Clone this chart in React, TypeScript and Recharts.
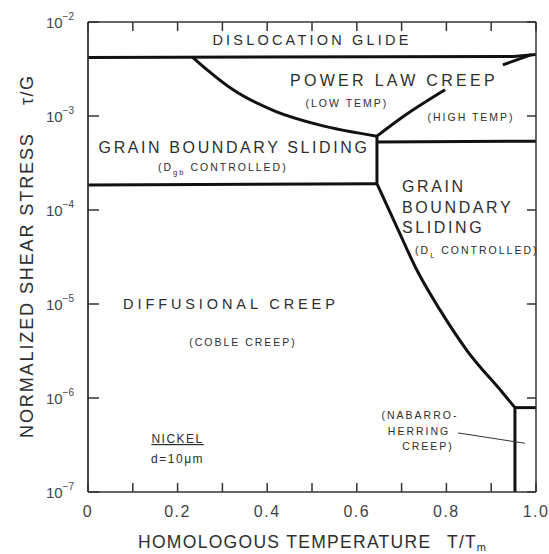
import React from 'react';
import { ComposedChart, Line, XAxis, YAxis, ReferenceDot } from 'recharts';

// axis ticks
const xTicks = [0, 0.1, 0.2, 0.3, 0.4, 0.5, 0.6, 0.7, 0.8, 0.9, 1.0];
const xLabelTicks = [0, 0.2, 0.4, 0.6, 0.8, 1.0];
const yDecades = [1e-7, 1e-6, 1e-5, 1e-4, 1e-3, 1e-2];

// field boundaries, x = T/Tm, y = tau/G
const glideBoundary = [
  { x: 0, y: 4.2e-3 },
  { x: 0.95, y: 4.3e-3 },
  { x: 1.0, y: 4.5e-3 },
];
const gbsLowerBoundary = [
  { x: 0, y: 1.85e-4 },
  { x: 0.645, y: 1.9e-4 },
];
const gbsSplit = [
  { x: 0.645, y: 1.9e-4 },
  { x: 0.645, y: 6.1e-4 },
];
const lowTempCreepBoundary = [
  { x: 0.234, y: 4.2e-3 },
  { x: 0.266, y: 3.1e-3 },
  { x: 0.324, y: 1.9e-3 },
  { x: 0.417, y: 1.13e-3 },
  { x: 0.518, y: 8.0e-4 },
  { x: 0.645, y: 6.1e-4 },
];
const highTempCreepLower = [
  { x: 0.645, y: 6.1e-4 },
  { x: 0.703, y: 9.8e-4 },
  { x: 0.797, y: 1.9e-3 },
];
const highTempCreepUpper = [
  { x: 0.926, y: 3.5e-3 },
  { x: 0.99, y: 4.5e-3 },
];
const creepGbsBoundary = [
  { x: 0.645, y: 5.3e-4 },
  { x: 1.0, y: 5.4e-4 },
];
const latticeGbsBoundary = [
  { x: 0.645, y: 1.9e-4 },
  { x: 0.69, y: 6.5e-5 },
  { x: 0.734, y: 2.3e-5 },
  { x: 0.786, y: 8.6e-6 },
  { x: 0.846, y: 3.2e-6 },
  { x: 0.926, y: 1.13e-6 },
  { x: 0.953, y: 7.9e-7 },
];
const nhTop = [
  { x: 0.953, y: 7.9e-7 },
  { x: 1.0, y: 7.9e-7 },
];
const nhSide = [
  { x: 0.953, y: 7.9e-7 },
  { x: 0.953, y: 1e-7 },
];
const nhLeader = [
  { x: 0.826, y: 4.25e-7 },
  { x: 0.975, y: 3.3e-7 },
];

type Part = string | { sub: string };
type Kind = 'big' | 'mid' | 'small' | 'note';

// region names, anchored at text baseline
const regionLabels: { x: number; y: number; parts: Part[]; kind: Kind; anchor?: 'start' | 'middle'; wide?: boolean }[] = [
  { x: 0.5, y: 5.7e-3, parts: ['DISLOCATION GLIDE'], kind: 'mid' },
  { x: 0.683, y: 2.08e-3, parts: ['POWER LAW CREEP'], kind: 'big', wide: true },
  { x: 0.578, y: 1.25e-3, parts: ['(LOW TEMP)'], kind: 'small' },
  { x: 0.855, y: 8.85e-4, parts: ['(HIGH TEMP)'], kind: 'small' },
  { x: 0.326, y: 4.04e-4, parts: ['GRAIN BOUNDARY SLIDING'], kind: 'big' },
  { x: 0.301, y: 2.6e-4, parts: ['(D', { sub: 'gb' }, ' CONTROLLED)'], kind: 'small' },
  { x: 0.701, y: 1.55e-4, parts: ['GRAIN'], kind: 'big', anchor: 'start' },
  { x: 0.701, y: 9.3e-5, parts: ['BOUNDARY'], kind: 'big', anchor: 'start' },
  { x: 0.701, y: 5.7e-5, parts: ['SLIDING'], kind: 'big', anchor: 'start' },
  { x: 0.73, y: 3.4e-5, parts: ['(D', { sub: 'L' }, ' CONTROLLED)'], kind: 'small', anchor: 'start' },
  { x: 0.319, y: 8.85e-6, parts: ['DIFFUSIONAL CREEP'], kind: 'mid', wide: true },
  { x: 0.346, y: 3.57e-6, parts: ['(COBLE CREEP)'], kind: 'small' },
  { x: 0.741, y: 5.98e-7, parts: ['(NABARRO-'], kind: 'small' },
  { x: 0.739, y: 4.04e-7, parts: ['HERRING'], kind: 'small' },
  { x: 0.759, y: 2.8e-7, parts: ['CREEP)'], kind: 'small' },
  { x: 0.2, y: 3.32e-7, parts: ['NICKEL'], kind: 'note' },
  { x: 0.2, y: 2.04e-7, parts: ['d=10\u03bcm'], kind: 'note' },
];

const FONT = '"Liberation Sans", Arial, sans-serif';
const INK = '#111';
const TEXT = '#2e2e2e';
const FRAME = '#333';

const kindStyle: Record<Kind, { size: number; spacing: number }> = {
  big: { size: 16, spacing: 2.6 },
  mid: { size: 14.5, spacing: 3.2 },
  small: { size: 10.5, spacing: 2 },
  note: { size: 12, spacing: 1.5 },
};

const renderParts = (parts: Part[], subSize: number) => {
  let lowered = false;
  return parts.map((p, i) => {
    if (typeof p === 'string') {
      const dy = lowered ? -4 : 0;
      lowered = false;
      return (
        <tspan key={i} dy={dy}>
          {p}
        </tspan>
      );
    }
    lowered = true;
    return (
      <tspan key={i} dy={4} fontSize={subSize}>
        {p.sub}
      </tspan>
    );
  });
};

const BottomTick = (props: any) => {
  const { x, y, payload } = props;
  const v = payload.value;
  const labelled = xLabelTicks.some((t) => Math.abs(t - v) < 1e-6);
  return (
    <g>
      <line x1={x} x2={x} y1={y} y2={y - 9} stroke={FRAME} strokeWidth={1.5} />
      {labelled && (
        <text x={x} y={y + 25} textAnchor="middle" fontFamily={FONT} fontSize={16} fill="#444" letterSpacing={1.5}>
          {v === 0 ? '0' : v.toFixed(1)}
        </text>
      )}
    </g>
  );
};

const TopTick = (props: any) => {
  const { x, y } = props;
  return <line x1={x} x2={x} y1={y} y2={y + 9} stroke={FRAME} strokeWidth={1.5} />;
};

const LeftTick = (props: any) => {
  const { x, y, payload } = props;
  const exp = Math.round(Math.log10(payload.value));
  return (
    <g>
      <line x1={x} x2={x + 11} y1={y} y2={y} stroke={FRAME} strokeWidth={1.5} />
      <text x={x - 14} y={y + 6} textAnchor="end" fontFamily={FONT} fontSize={15} fill="#444">
        <tspan>10</tspan>
        <tspan dy={-8} fontSize={10}>{`\u2212${Math.abs(exp)}`}</tspan>
      </text>
    </g>
  );
};

const RightTick = (props: any) => {
  const { x, y } = props;
  return <line x1={x} x2={x - 9} y1={y} y2={y} stroke={FRAME} strokeWidth={1.5} />;
};

const YTitle = (props: any) => {
  const { viewBox } = props;
  const bx = viewBox.x + 33;
  const bottom = viewBox.y + viewBox.height - 54;
  const top = viewBox.y + 83;
  return (
    <g fontFamily={FONT} fontSize={18} fill={TEXT}>
      <text x={bx} y={bottom} transform={`rotate(-90 ${bx} ${bottom})`} letterSpacing={1.9}>
        NORMALIZED SHEAR STRESS
      </text>
      <text x={bx} y={top} transform={`rotate(-90 ${bx} ${top})`} letterSpacing={1.5}>
        {'\u03c4/G'}
      </text>
    </g>
  );
};

const XTitle = (props: any) => {
  const { viewBox } = props;
  const by = viewBox.y + 56;
  return (
    <g fontFamily={FONT} fontSize={17.5} fill={TEXT}>
      <text x={138} y={by} letterSpacing={1.3}>
        HOMOLOGOUS TEMPERATURE
      </text>
      <text x={447} y={by} letterSpacing={1.2}>
        {'T/T'}
        <tspan dy={3} fontSize={11}>m</tspan>
      </text>
    </g>
  );
};

const RegionText = ({ viewBox, label }: any) => {
  const st = kindStyle[label.kind as Kind];
  return (
    <text
      x={viewBox.x}
      y={viewBox.y}
      textAnchor={label.anchor ?? 'middle'}
      fontFamily={FONT}
      fontSize={st.size}
      letterSpacing={label.wide ? st.spacing + 0.7 : st.spacing}
      fill={TEXT}
      textDecoration={label.parts[0] === 'NICKEL' ? 'underline' : undefined}
    >
      {renderParts(label.parts, st.size * 0.72)}
    </text>
  );
};

const boundaries = [
  { key: 'glide', data: glideBoundary, curve: 'linear' },
  { key: 'gbsLower', data: gbsLowerBoundary, curve: 'linear' },
  { key: 'gbsSplit', data: gbsSplit, curve: 'linear' },
  { key: 'lowTemp', data: lowTempCreepBoundary, curve: 'monotone' },
  { key: 'highTempA', data: highTempCreepLower, curve: 'monotone' },
  { key: 'highTempB', data: highTempCreepUpper, curve: 'linear' },
  { key: 'creepGbs', data: creepGbsBoundary, curve: 'linear' },
  { key: 'latticeGbs', data: latticeGbsBoundary, curve: 'monotone' },
  { key: 'nhTop', data: nhTop, curve: 'linear' },
  { key: 'nhSide', data: nhSide, curve: 'linear' },
];

export default function App() {
  return (
    <div style={{ position: 'absolute', left: 0, top: 0, background: '#fff' }}>
      <ComposedChart width={549} height={554} margin={{ top: 21, right: 12, bottom: 0, left: 0 }}>
        <XAxis
          dataKey="x"
          type="number"
          domain={[0, 1]}
          allowDataOverflow
          ticks={xTicks}
          interval={0}
          height={62}
          tickSize={0}
          tickMargin={0}
          tickLine={false}
          tick={<BottomTick />}
          axisLine={{ stroke: FRAME, strokeWidth: 1.5 }}
          label={{ content: <XTitle /> }}
        />
        <XAxis
          xAxisId="top"
          orientation="top"
          dataKey="x"
          type="number"
          domain={[0, 1]}
          allowDataOverflow
          ticks={xTicks}
          interval={0}
          height={1}
          tickSize={0}
          tickMargin={0}
          tickLine={false}
          tick={<TopTick />}
          axisLine={{ stroke: FRAME, strokeWidth: 1.5 }}
        />
        <YAxis
          type="number"
          scale="log"
          domain={[1e-7, 1e-2]}
          allowDataOverflow
          ticks={yDecades}
          interval={0}
          width={88}
          tickSize={0}
          tickMargin={0}
          tickLine={false}
          tick={<LeftTick />}
          axisLine={{ stroke: FRAME, strokeWidth: 1.8 }}
          label={{ content: <YTitle /> }}
        />
        <YAxis
          yAxisId="right"
          orientation="right"
          type="number"
          scale="log"
          domain={[1e-7, 1e-2]}
          allowDataOverflow
          ticks={yDecades}
          interval={0}
          width={1}
          tickSize={0}
          tickMargin={0}
          tickLine={false}
          tick={<RightTick />}
          axisLine={{ stroke: FRAME, strokeWidth: 1.5 }}
        />
        {boundaries.map((b) => (
          <Line
            key={b.key}
            data={b.data}
            dataKey="y"
            type={b.curve as any}
            stroke={INK}
            strokeWidth={3}
            dot={false}
            activeDot={false}
            isAnimationActive={false}
          />
        ))}
        <Line
          data={nhLeader}
          dataKey="y"
          type="linear"
          stroke="#333"
          strokeWidth={1}
          dot={false}
          activeDot={false}
          isAnimationActive={false}
        />
        <Line
          data={glideBoundary}
          xAxisId="top"
          yAxisId="right"
          dataKey="y"
          stroke="none"
          dot={false}
          activeDot={false}
          isAnimationActive={false}
        />
        {regionLabels.map((l, i) => (
          <ReferenceDot
            key={i}
            x={l.x}
            y={l.y}
            r={0}
            fill="none"
            stroke="none"
            label={(p: any) => <RegionText viewBox={p.viewBox} label={l} />}
          />
        ))}
      </ComposedChart>
    </div>
  );
}
